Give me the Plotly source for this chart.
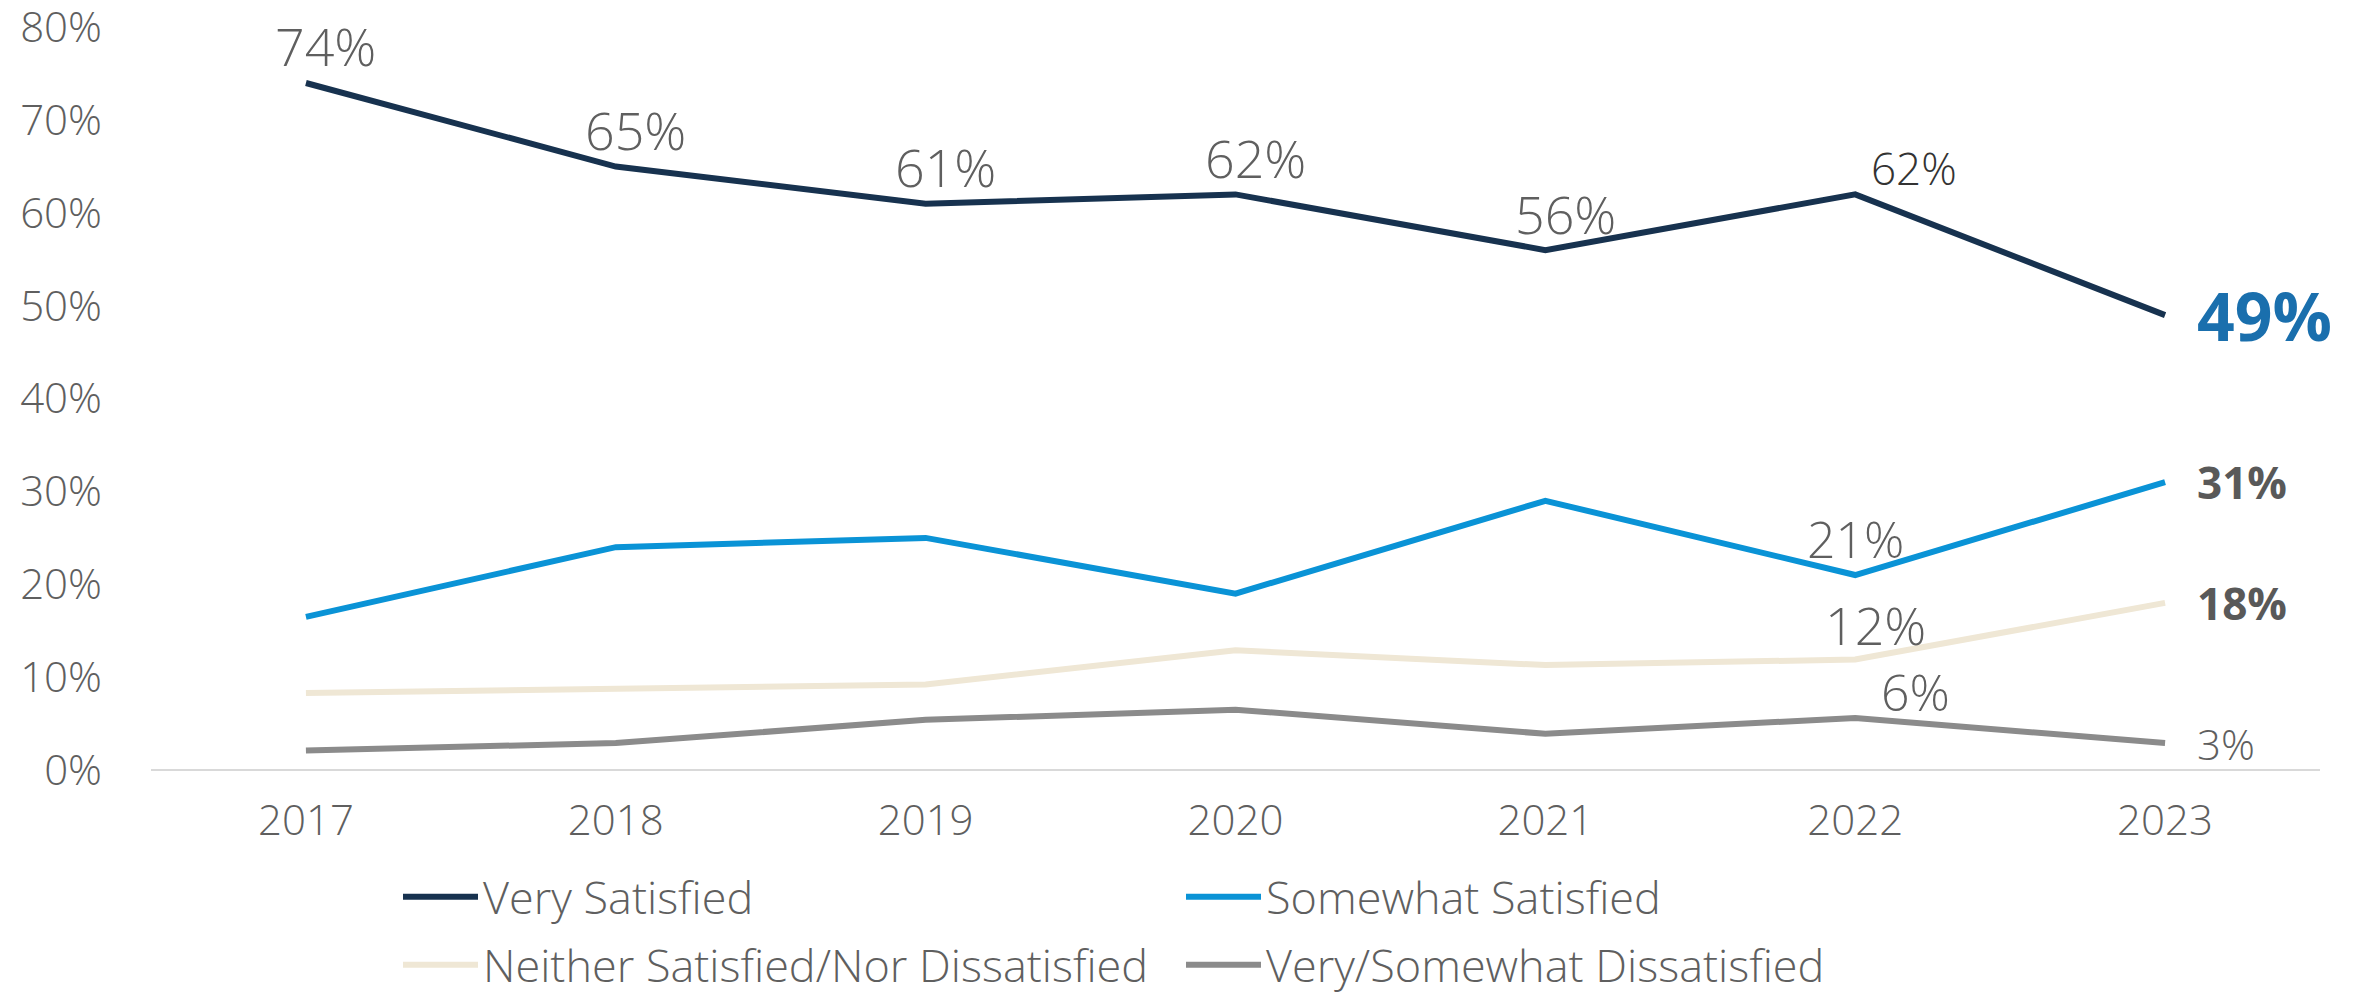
import plotly.graph_objects as go

years = ["2017", "2018", "2019", "2020", "2021", "2022", "2023"]
series_names = ["Very Satisfied", "Somewhat Satisfied",
                "Neither Satisfied/Nor Dissatisfied", "Very/Somewhat Dissatisfied"]
very_satisfied = [74, 65, 61, 62, 56, 62, 49]
somewhat_satisfied = [16.5, 24, 25, 19, 29, 21, 31]
neither = [8.3, 8.7, 9.2, 12.9, 11.3, 11.9, 18]
dissatisfied = [2.1, 2.9, 5.4, 6.5, 3.9, 5.6, 2.9]
y_ticks = [0, 10, 20, 30, 40, 50, 60, 70, 80]
y_tick_labels = [f"{v}%" for v in y_ticks]

colors = ["#17324f", "#0a93d6", "#efe7d5", "#8b8b8b"]
all_series = [very_satisfied, somewhat_satisfied, neither, dissatisfied]

FONT = "Open Sans, Lato, DejaVu Sans, sans-serif"
GRAY = "#5f5f5f"

# page body adds an 8px offset; figure is sized to fit the window
W, H = 2353, 987

xs = list(range(len(years)))
fig = go.Figure()
for i, (name, vals, col) in enumerate(zip(series_names, all_series, colors)):
    fig.add_trace(go.Scatter(
        x=xs, y=vals, name=name, mode="lines",
        line=dict(color=col, width=6),
        legend="legend" if i < 2 else "legend2",
        hoverinfo="skip",
    ))

ann = []
def lab(x, y, text, xshift=0, yshift=0, size=52, color=GRAY, weight=300, xanchor="center"):
    ann.append(dict(x=x, y=y, xref="x", yref="y", text=text, showarrow=False,
                    xshift=xshift, yshift=yshift, xanchor=xanchor, yanchor="middle",
                    font=dict(family=FONT, size=size, color=color, weight=weight)))

# Very satisfied labels 2017-2021
for i in range(5):
    lab(i, very_satisfied[i], f"{very_satisfied[i]:.0f}%", xshift=20, yshift=37)
lab(5, very_satisfied[5], f"{very_satisfied[5]:.0f}%", xshift=59, yshift=26, size=44, color="#333333")
lab(5, somewhat_satisfied[5], f"{somewhat_satisfied[5]:.0f}%", xshift=0, yshift=36, size=50)
lab(5, neither[5], f"{neither[5]:.0f}%", xshift=20, yshift=35)
lab(5, dissatisfied[5], f"{dissatisfied[5]:.0f}%", xshift=60, yshift=26, size=50)
# 2023 end labels
lab(6, very_satisfied[6], f"{very_satisfied[6]:.0f}%", xshift=30, size=66, color="#1a6fad", weight=700, xanchor="left")
lab(6, somewhat_satisfied[6], f"{somewhat_satisfied[6]:.0f}%", xshift=30, size=44, color="#595959", weight=700, xanchor="left")
lab(6, neither[6], f"{neither[6]:.0f}%", xshift=30, size=44, color="#595959", weight=700, xanchor="left")
lab(6, dissatisfied[6], f"{dissatisfied[6]:.0f}%", xshift=30, size=42, color=GRAY, weight=300, xanchor="left")

legend_common = dict(orientation="h", xref="container", yref="container",
                     xanchor="left", yanchor="middle", entrywidth=693, itemwidth=75,
                     font=dict(family=FONT, size=45, color=GRAY, weight=300),
                     bgcolor="rgba(0,0,0,0)", itemclick=False, itemdoubleclick=False)

fig.update_layout(
    width=W, height=H,
    margin=dict(l=143, r=41, t=10, b=225, autoexpand=False),
    paper_bgcolor="white", plot_bgcolor="white",
    font=dict(family=FONT, color=GRAY, weight=300),
    annotations=ann,
    legend=dict(x=390 / W, y=1 - 889 / H, **legend_common),
    legend2=dict(x=390 / W, y=1 - 957 / H, **legend_common),
    xaxis=dict(range=[-0.5, 6.5], tickvals=xs, ticktext=years, showgrid=False,
               zeroline=False, showline=False, ticks="", ticklabelstandoff=22,
               automargin=False,
               tickfont=dict(family=FONT, size=42, color=GRAY, weight=300)),
    yaxis=dict(range=[0, 81], tickvals=y_ticks, ticktext=y_tick_labels, showgrid=False,
               zeroline=True, zerolinecolor="#d9d9d9", zerolinewidth=2,
               showline=False, ticks="", ticklabelstandoff=48, automargin=False,
               ticklabeloverflow="allow",
               tickfont=dict(family=FONT, size=42, color=GRAY, weight=300)),
)
fig.write_html("out.html")
